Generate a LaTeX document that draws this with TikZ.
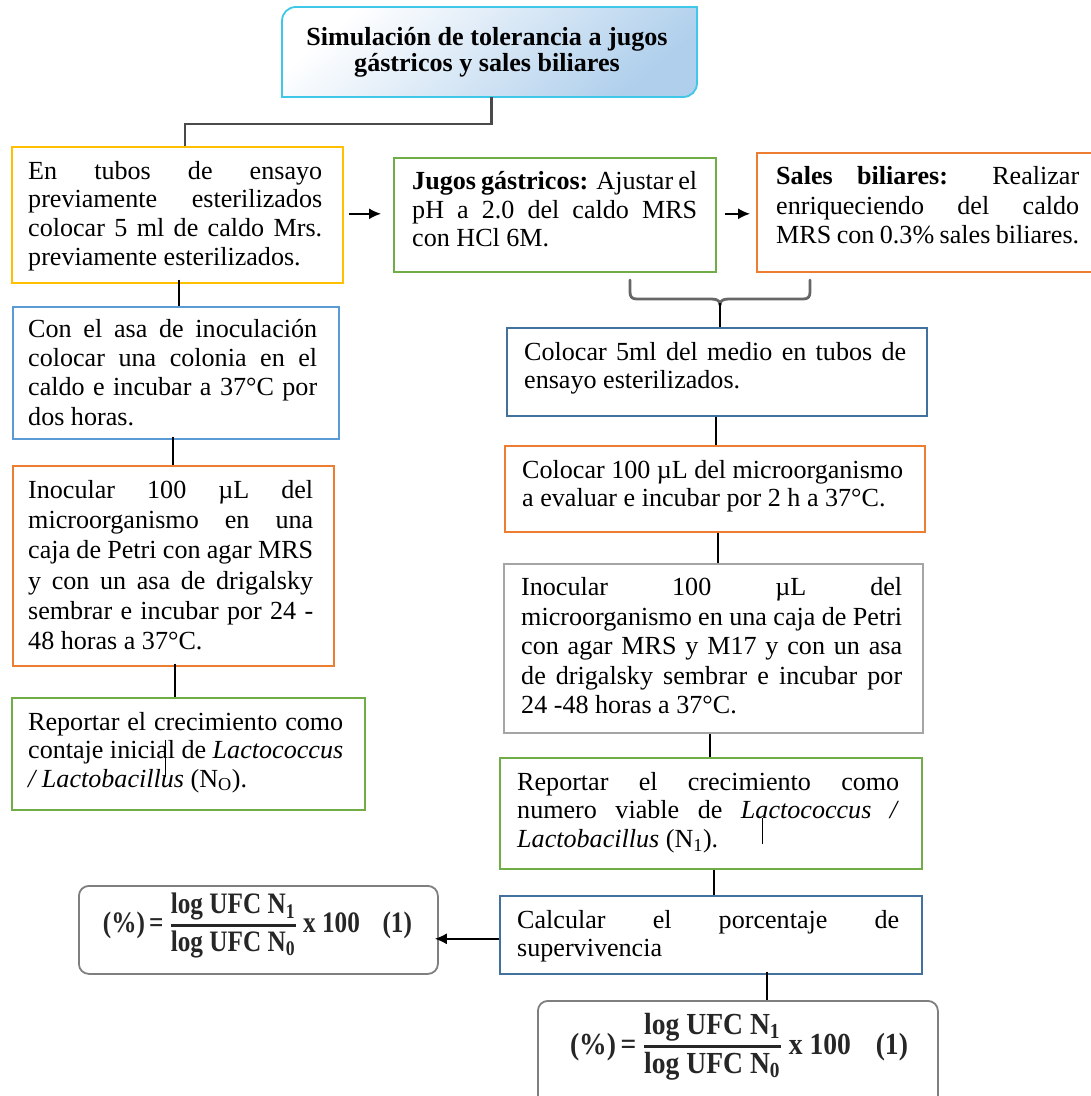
\documentclass[tikz,border=0pt]{standalone}
\usepackage{fontspec}
\setmainfont{Liberation Serif}
\usetikzlibrary{arrows.meta,calc}
\definecolor{yellowc}{HTML}{FFC000}
\definecolor{greenc}{HTML}{70AD47}
\definecolor{orangec}{HTML}{ED7D31}
\definecolor{bluec}{HTML}{5B9BD5}
\definecolor{dbluec}{HTML}{41719C}
\definecolor{grayc}{HTML}{A5A5A5}
\definecolor{fgray}{HTML}{7F7F7F}
\definecolor{tborder}{HTML}{3EC7E6}
\definecolor{tfill}{HTML}{AFCFEC}
\definecolor{elbowc}{HTML}{4A4A4A}
\definecolor{bracec}{HTML}{666666}
\definecolor{ftext}{HTML}{262626}
\newcommand\jl[2]{\makebox[#1][s]{#2}}
\newcommand\fst{\rule{0pt}{21pt}}
\newcommand\myformula{\color{ftext}\bfseries(\%)\,=\,$\textstyle{\hbox{\bfseries log UFC N\textsubscript{1}}\above 1.2pt\hbox{\bfseries log UFC N\textsubscript{0}}}$\,x 100\hspace{0.9em}(1)}
\tikzset{
  boxn/.style={draw, line width=1.6pt, inner sep=0pt, anchor=north west},
  txt/.style={anchor=north west, inner sep=0pt, align=left, font={\fontsize{26.1pt}{#1pt}\selectfont}},
  txt/.default=29.2,
  conn/.style={draw=black, line width=1.4pt},
  arr/.style={draw=black, line width=1.5pt, -{Latex[length=12pt,width=11pt]}},
  elbow/.style={draw=elbowc, line width=2.2pt},
  bracep/.style={draw=bracec, line width=2.8pt, line cap=round},
  fbox/.style={draw=fgray, line width=1.8pt, rounded corners=10pt, inner sep=0pt, anchor=north west},
}
\begin{document}
\begin{tikzpicture}[x=1pt,y=-1pt]
\useasboundingbox (0,0) rectangle (1091,1096);
\fill[white] (0,0) rectangle (1091,1096);

% title
\path[draw=tborder, line width=1.8pt, top color=white, bottom color=tfill, shading angle=40]
  (282,21) .. controls (282,13) and (288,7) .. (296,7) -- (697,7) -- (697,83)
  .. controls (697,91) and (691,97) .. (683,97) -- (282,97) -- cycle;
\node[minimum width=415pt, minimum height=90pt, inner sep=0pt] (title) at (489.5,52) {};
\node[txt=26.7, align=center, anchor=north, font={\fontsize{26.1pt}{26.7pt}\selectfont\bfseries}] (tt) at (487,24)
  {\fst Simulación de tolerancia a jugos\\ gástricos y sales biliares};

% boxes
\node[boxn, draw=yellowc, minimum width=331pt, minimum height=136pt] (b1) at (11,146) {};
\node[boxn, draw=greenc, minimum width=322pt, minimum height=114pt] (b2) at (393,157) {};
\node[boxn, draw=orangec, minimum width=344pt, minimum height=119pt] (b3) at (756,152) {};
\node[boxn, draw=bluec, minimum width=326pt, minimum height=132pt] (l2) at (12,306) {};
\node[boxn, draw=orangec, minimum width=321pt, minimum height=200pt] (l3) at (12,465) {};
\node[boxn, draw=greenc, minimum width=353pt, minimum height=112pt] (l4) at (11,697) {};
\node[boxn, draw=dbluec, minimum width=420pt, minimum height=88pt] (b4) at (506,327) {};
\node[boxn, draw=orangec, minimum width=420pt, minimum height=86pt] (b5) at (504,445) {};
\node[boxn, draw=grayc, minimum width=419pt, minimum height=169pt] (b6) at (503,563) {};
\node[boxn, draw=greenc, minimum width=422pt, minimum height=111pt] (b7) at (499,757) {};
\node[boxn, draw=dbluec, minimum width=422pt, minimum height=78pt] (b8) at (499,895) {};
\node[fbox, minimum width=359pt, minimum height=88pt] (f1) at (78,885) {};
\node[fbox, minimum width=400pt, minimum height=110pt] (f2) at (537,1000) {};

% texts
\node[txt=28.7] (t1) at (28,158) {\fst\jl{294pt}{En tubos de ensayo}\\
  \jl{294pt}{previamente esterilizados}\\
  \jl{294pt}{colocar 5 ml de caldo Mrs.}\\
  previamente esterilizados.};
\node[txt=29.3] (tl2) at (28,316) {\fst\jl{289pt}{Con el asa de inoculación}\\
  \jl{289pt}{colocar una colonia en el}\\
  \jl{289pt}{caldo e incubar a 37°C por}\\
  dos horas.};
\node[txt=30.2] (tl3) at (28,477.3) {\fst\jl{285pt}{Inocular 100 µL del}\\
  \jl{285pt}{microorganismo en una}\\
  \jl{285pt}{caja de Petri con agar MRS}\\
  \jl{285pt}{y con un asa de drigalsky}\\
  \jl{285pt}{sembrar e incubar por 24 -}\\
  48 horas a 37°C.};
\node[txt=28.4] (tl4) at (28,709) {\fst\jl{315pt}{Reportar el crecimiento como}\\
  \jl{315pt}{contaje inicial de \textit{Lactococcus}}\\
  \textit{/ Lactobacillus} (N\textsubscript{O}).};
\node[txt=28.7] (t2) at (412,168.3) {\fst\jl{285pt}{\textbf{Jugos gástricos:} Ajustar el}\\
  \jl{285pt}{pH a 2.0 del caldo MRS}\\
  con HCl 6M.};
\node[txt=29.5] (t3) at (776,163.3) {\fst\jl{303pt}{\textbf{Sales biliares:} Realizar}\\
  \jl{303pt}{enriqueciendo del caldo}\\
  \jl{303pt}{MRS con 0.3\% sales biliares.}};
\node[txt=28] (t4) at (524,339) {\fst\jl{382pt}{Colocar 5ml del medio en tubos de}\\
  ensayo esterilizados.};
\node[txt=28.7] (t5) at (522,457) {\fst\jl{381pt}{Colocar 100 µL del microorganismo}\\
  a evaluar e incubar por 2 h a 37°C.};
\node[txt=29.4] (t6) at (521,574.7) {\fst\jl{381pt}{Inocular 100 µL del}\\
  \jl{381pt}{microorganismo en una caja de Petri}\\
  \jl{381pt}{con agar MRS y M17 y con un asa}\\
  \jl{381pt}{de drigalsky sembrar e incubar por}\\
  24 -48 horas a 37°C.};
\node[txt=28.7] (t7) at (517,769) {\fst\jl{382pt}{Reportar el crecimiento como}\\
  \jl{382pt}{numero viable de \textit{Lactococcus /}}\\
  \textit{Lactobacillus} (N\textsubscript{1}).};
\node[txt=28.4] (t8) at (517,907.3) {\fst\jl{382pt}{Calcular el porcentaje de}\\
  supervivencia};

% formulas
\node[inner sep=0pt] (fm1) at (257.5,925.5) {\resizebox*{309pt}{65pt}{\myformula}};
\node[inner sep=0pt] (fm2) at (739,1046.5) {\resizebox*{338pt}{67pt}{\myformula}};

% title connector
\draw[elbow] ($(title.south)+(2,0)$) -- ++(0,27) -| ($(b1.north west)+(174,0)$);

% horizontal arrows
\coordinate (a1) at ($(b1.east)+(5,-1)$);
\draw[arr] (a1) -- ($(a1 -| b2.west)+(-12,0)$);
\coordinate (a2) at ($(b2.east)+(8,-1)$);
\draw[arr] (a2) -- ($(a2 -| b3.west)+(-6,0)$);
\coordinate (a8) at ($(b8.west)+(0,4)$);
\draw[arr] (a8) -- ($(a8 -| f1.east)+(-4,0)$);

% brace
\draw[bracep] (630,280) -- (630,292) .. controls (630,297) and (632,299) .. (637,299) -- (711,299)
  .. controls (716,299) and (720,300) .. (720,305);
\draw[bracep] (810,280) -- (810,292) .. controls (810,297) and (808,299) .. (803,299) -- (729,299)
  .. controls (724,299) and (720,300) .. (720,305);
\coordinate (bt) at (720,303);
\draw[conn] (bt) -- (bt |- b4.north);

% vertical connectors
\coordinate (c1) at ($(b1.south west)+(168,-4)$);
\draw[conn] (c1) -- (c1 |- l2.north);
\coordinate (c2) at ($(l2.south west)+(161,-3)$);
\draw[conn] (c2) -- (c2 |- l3.north);
\coordinate (c3) at ($(l3.south west)+(163,-3)$);
\draw[conn] (c3) -- (c3 |- l4.north);
\coordinate (c4) at ($(b4.south west)+(210,0)$);
\draw[conn] (c4) -- (c4 |- b5.north);
\coordinate (c5) at ($(b5.south west)+(214,0)$);
\draw[conn] (c5) -- (c5 |- b6.north);
\coordinate (c6) at ($(b6.south west)+(207,0)$);
\draw[conn] (c6) -- (c6 |- b7.north);
\coordinate (c7) at ($(b7.south west)+(215,0)$);
\draw[conn] (c7) -- (c7 |- b8.north);
\coordinate (c8) at ($(b8.south west)+(268,-3)$);
\draw[conn] (c8) -- (c8 |- f2.north);

% stray marks
\draw[black, line width=1pt] (165,740) -- (165,777);
\draw[black, line width=1pt] (762,818) -- (762,844);
\end{tikzpicture}
\end{document}
